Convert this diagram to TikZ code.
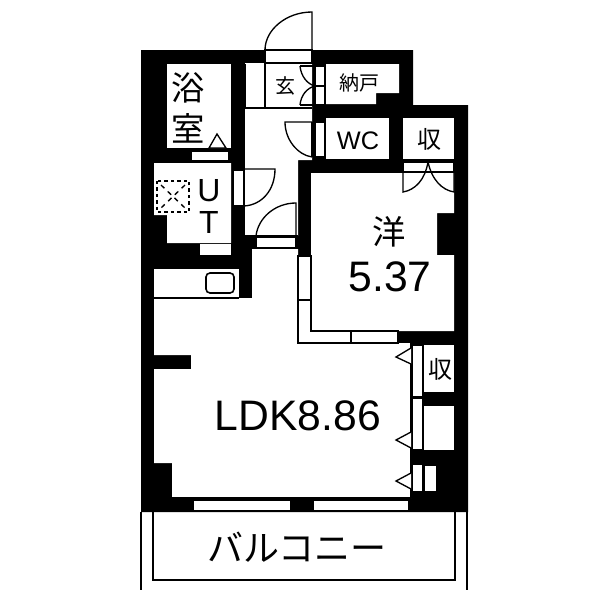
\documentclass[tikz,border=0pt]{standalone}
\usepackage{fontspec}
\setmainfont{Liberation Sans}
\newfontfamily\cjk{Noto Sans CJK JP}
\tikzset{
  room/.style={fill=white,draw=none},
  fixture/.style={fill=white,draw=black,line width=1pt},
  leaf/.style={draw=black,line width=1pt,fill=none},
  lbl/.style={inner sep=0pt,text=black},
  cjklbl/.style={lbl,font=\cjk},
}
\begin{document}
\begin{tikzpicture}[x=0.75pt,y=-0.75pt]
\useasboundingbox (0,0) rectangle (600,600);
\fill[white] (0,0) rectangle (600,600);
% walls
\fill[black] (141,50)--(413,50)--(413,105)--(468,105)--(468,512)--(141,512)--cycle;
% rooms
\fill[room] (167,64) rectangle (231,148);
\fill[room] (154,163)--(231,163)--(231,243)--(167,243)--(167,215)--(154,215)--cycle;
\fill[room] (245,63)--(312,63)--(312,108)--(312,160)--(298,160)--(298,236)--(245,236)--cycle;
\fill[room] (326,64)--(399,64)--(399,93)--(376,93)--(376,104)--(326,104)--cycle;
\fill[room] (326,118) rectangle (389,159);
\fill[room] (403,118) rectangle (454,159);
\fill[room] (311,173)--(454,173)--(454,213)--(437,213)--(437,255)--(454,255)--(454,331)--(311,331)--cycle;
\fill[room] (154,269) rectangle (239,298);
\fill[room] (154,298)--(252,298)--(252,249)--(298,249)--(298,343)--(411,343)--(411,498)--(172,498)--(172,463)--(154,463)--(154,369)--(191,369)--(191,355)--(154,355)--cycle;
\fill[room] (424,345) rectangle (454,392);
\fill[room] (424,406) rectangle (454,450);
\fill[room] (424,465) rectangle (437,492);
% strips
\draw[fixture] (191,151) rectangle (229,161);
\fill[room] (200,244) rectangle (231,255);
\draw[fixture] (233,170) rectangle (244,206);
\draw[fixture] (256,237) rectangle (296,248);
\draw[fixture] (315,122) rectangle (325,157);
\draw[fixture] (265,50) rectangle (312,63);
\draw[fixture] (315,66) rectangle (325,86);
\draw[fixture] (315,86) rectangle (325,105);
\draw[fixture] (403,162) rectangle (454,172);
\draw[fixture] (412,345) rectangle (423,397);
\draw[fixture] (412,398) rectangle (423,450);
\draw[fixture] (412,464) rectangle (423,492);
\draw[fixture] (424,465) rectangle (437,492);
\draw[fixture] (193,500) rectangle (291,511);
\draw[fixture] (313,500) rectangle (409,511);
\draw[fixture] (298,256) rectangle (311,300);
\draw[fixture] (298,300)--(311,300)--(311,331)--(398,331)--(398,343)--(298,343)--cycle;
\draw[leaf] (351,331)--(351,343);
% lines
\draw[leaf] (265,63)--(265,108);
\draw[leaf] (245,108)--(312,108);
\draw[leaf] (245,64)--(245,108);
\draw[leaf] (245,236)--(298,236);
\draw[leaf] (154,298)--(239,298);
\draw[leaf] (172,498)--(411,498);
\draw[leaf] (411,343)--(411,498);
% doors
\draw[leaf] (312,50)--(312,12) .. controls (286,12) and (265,30) .. (265,50);
\draw[leaf] (300,66)--(315,66);
\draw[leaf] (300,105)--(315,105);
\draw[leaf] (300,66) .. controls (301,76) and (307,84) .. (315,86);
\draw[leaf] (300,105) .. controls (301,95) and (307,88) .. (315,86);
\draw[leaf] (312,122)--(285,122) .. controls (285,140) and (298,155) .. (312,157);
\draw[leaf] (312,122)--(312,157);
\draw[leaf] (244,169)--(275,169) .. controls (275,190) and (262,205) .. (244,206);
\draw[leaf] (244,169)--(244,206);
\draw[leaf] (296,236)--(296,203) .. controls (275,203) and (258,218) .. (256,236);
\draw[leaf] (403,162)--(403,192) .. controls (415,190) and (425,180) .. (428,162);
\draw[leaf] (454,162)--(454,192) .. controls (442,190) and (432,180) .. (428,162);
% triangles
\draw[fixture] (209,148)--(217,134)--(226,148)--cycle;
\draw[fixture] (411,348)--(396,357)--(411,364);
\draw[fixture] (411,432)--(396,440)--(411,448);
\draw[fixture] (411,473)--(396,481)--(411,489);
% sink
\draw[leaf,line width=1.2pt,rounded corners=3pt] (206,273) rectangle (234,293);
% washer
\draw[leaf,dash pattern=on 2.6pt off 2.2pt,line width=1.2pt] (157,181) rectangle (189,212);
\draw[leaf,dash pattern=on 3.5pt off 3.5pt] (161,185)--(185,208);
\draw[leaf,dash pattern=on 3.5pt off 3.5pt] (185,185)--(161,208);
% balcony
\draw[leaf,line width=1.2pt] (153,512)--(153,580)--(455,580)--(455,512);
\draw[leaf,line width=1pt] (141,512)--(141,590);
\draw[leaf,line width=1pt] (467,512)--(467,590);
% labels
\node[cjklbl,font=\cjk\fontsize{25}{25}\selectfont] (bath1) at (188,88) {浴};
\node[cjklbl,font=\cjk\fontsize{25}{25}\selectfont] (bath2) at (188,128) {室};
\node[cjklbl,font=\cjk\fontsize{15}{15}\selectfont] (gen) at (285,86) {玄};
\node[cjklbl,font=\cjk\fontsize{15}{15}\selectfont] (nando) at (359,83) {納戸};
\node[lbl,font=\fontsize{19}{19}\selectfont] (wc) at (358,141) {WC};
\node[cjklbl,font=\cjk\fontsize{18}{18}\selectfont] (s1) at (429,139) {収};
\node[cjklbl,font=\cjk\fontsize{18}{18}\selectfont] (s2) at (440,369) {収};
\node[lbl,font=\fontsize{24}{24}\selectfont] (u) at (209,191) {U};
\node[lbl,font=\fontsize{24}{24}\selectfont] (t) at (209,222) {T};
\node[cjklbl,font=\cjk\fontsize{25}{25}\selectfont] (yo) at (389,232) {洋};
\node[lbl,font=\fontsize{32}{32}\selectfont] (a1) at (390,277) {5.37};
\node[lbl,font=\fontsize{32}{32}\selectfont] (a2) at (298,416) {LDK8.86};
\node[cjklbl,font=\cjk\fontsize{27}{27}\selectfont] (bal) at (297,547) {バルコニー};
\end{tikzpicture}
\end{document}
